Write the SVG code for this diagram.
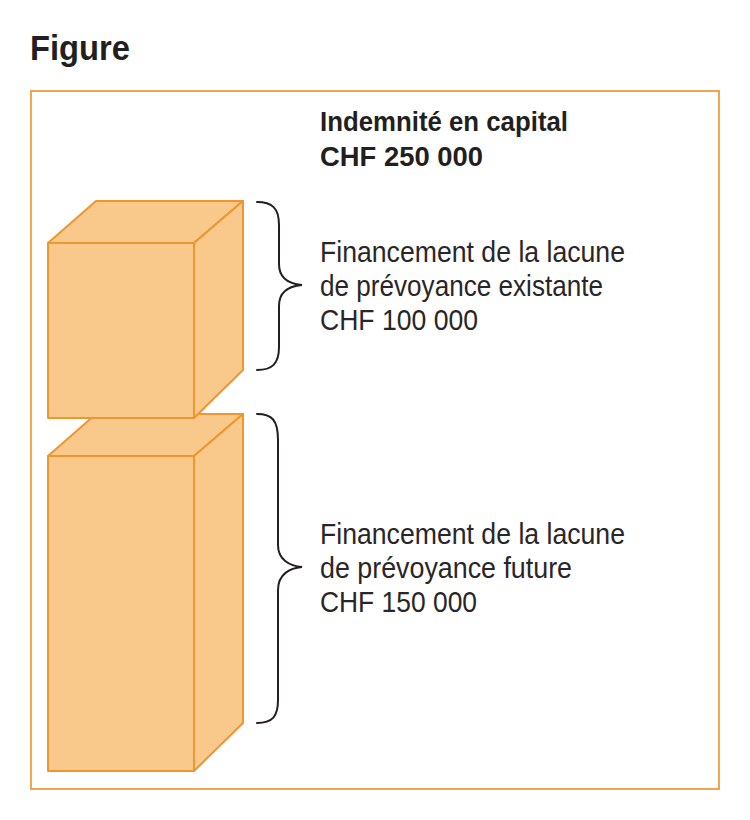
<svg xmlns="http://www.w3.org/2000/svg" width="750" height="820" viewBox="0 0 750 820">
<style>
.frame{fill:none;stroke:#F2A54A;stroke-width:2}
.face{fill:#F9C98C;stroke:#EE9630;stroke-width:2;stroke-linejoin:round}
.brace{fill:none;stroke:#231F20;stroke-width:2;stroke-linecap:round}
.title{font-family:"Liberation Sans",Arial,sans-serif;font-weight:bold;font-size:35px;fill:#231F20}
.head{font-family:"Liberation Sans",Arial,sans-serif;font-weight:bold;font-size:27px;fill:#231F20}
.lbl{font-family:"Liberation Sans",Arial,sans-serif;font-size:30px;fill:#2a2627}
</style>
<rect width="750" height="820" fill="#ffffff"/>
<text class="title" x="30" y="60" textLength="100" lengthAdjust="spacingAndGlyphs">Figure</text>
<rect class="frame" x="31" y="91" width="688" height="698"/>
<g id="header">
<text class="head" x="320" y="131" textLength="248" lengthAdjust="spacingAndGlyphs">Indemnité en capital</text>
<text class="head" x="320" y="166" textLength="163" lengthAdjust="spacingAndGlyphs">CHF 250 000</text>
</g>
<g id="cube-future">
<polygon class="face" points="48,456 96,414 243,414 194,456"/>
<polygon class="face" points="194,456 243,414 243,723 194,771"/>
<rect class="face" x="48" y="456" width="146" height="315"/>
</g>
<g id="cube-existing">
<polygon class="face" points="48,243 96,201 243,201 194,243"/>
<polygon class="face" points="194,243 243,201 243,370 194,418"/>
<rect class="face" x="48" y="243" width="146" height="175"/>
</g>
<g id="connectors">
<path class="brace" d="M257,202 C272,202 279,208 279,225 L279,264 C279,279 290,284 302,285 C290,286 279,291 279,306 L279,347 C279,364 272,370 257,370"/>
<path class="brace" d="M257,414 C272,414 278,420 278,440 L278,545 C278,560 290,566 302,567 C290,568 278,574 278,590 L278,700 C278,717 272,723 257,723"/>
</g>
<g id="label-existing">
<text class="lbl" x="320" y="262" textLength="305" lengthAdjust="spacingAndGlyphs">Financement de la lacune</text>
<text class="lbl" x="320" y="296" textLength="283" lengthAdjust="spacingAndGlyphs">de prévoyance existante</text>
<text class="lbl" x="320" y="330" textLength="158" lengthAdjust="spacingAndGlyphs">CHF 100 000</text>
</g>
<g id="label-future">
<text class="lbl" x="320" y="544" textLength="305" lengthAdjust="spacingAndGlyphs">Financement de la lacune</text>
<text class="lbl" x="320" y="578" textLength="252" lengthAdjust="spacingAndGlyphs">de prévoyance future</text>
<text class="lbl" x="320" y="612" textLength="157" lengthAdjust="spacingAndGlyphs">CHF 150 000</text>
</g>
</svg>
